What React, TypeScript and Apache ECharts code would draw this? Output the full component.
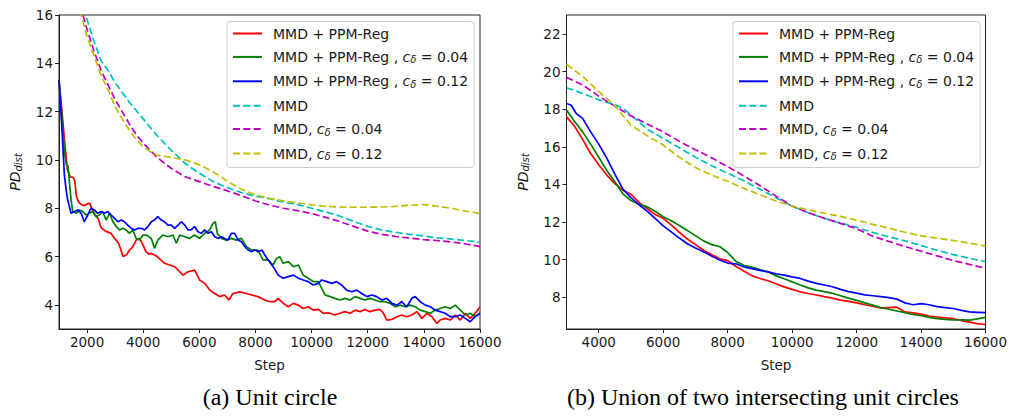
import React, { useEffect, useRef } from 'react';
import * as echarts from 'echarts';

const SERIES_NAMES = [
  'MMD + PPM-Reg',
  'MMD + PPM-Reg , c_δ = 0.04',
  'MMD + PPM-Reg , c_δ = 0.12',
  'MMD',
  'MMD, c_δ = 0.04',
  'MMD, c_δ = 0.12',
];
const SERIES_COLORS = ['#ff0000', '#008000', '#0000ff', '#00bfbf', '#bf00bf', '#bfbf00'];
const SERIES_DASHED = [false, false, false, true, true, true];

const CAPTIONS = ['(a) Unit circle', '(b) Union of two intersecting unit circles'];
const X_LABEL = 'Step';

const leftXTicks = [2000, 4000, 6000, 8000, 10000, 12000, 14000, 16000];
const leftYTicks = [4, 6, 8, 10, 12, 14, 16];
const rightXTicks = [4000, 6000, 8000, 10000, 12000, 14000, 16000];
const rightYTicks = [8, 10, 12, 14, 16, 18, 20, 22];

// (a) Unit circle
const uRed: [number, number][] = [
  [1000, 13.3], [1100, 12.1], [1200, 10.75], [1300, 9.6], [1400, 9.3], [1500, 9.28], [1560, 9.15], [1620, 8.5],
  [1700, 8.25], [1800, 8.15], [1900, 8.1], [2000, 8.18], [2100, 8.2], [2200, 7.9], [2300, 7.72], [2400, 7.55],
  [2500, 7.2], [2600, 7.1], [2700, 7.03], [2850, 6.96], [3000, 6.72], [3100, 6.6], [3200, 6.3], [3280, 6.0],
  [3400, 6.06], [3500, 6.25], [3630, 6.41], [3750, 6.68], [3870, 6.75], [3990, 6.48], [4100, 6.2], [4200, 6.1],
  [4290, 6.13], [4470, 6.02], [4640, 5.85], [4760, 5.72], [4940, 5.65], [5120, 5.58], [5300, 5.37], [5420, 5.23],
  [5600, 5.37], [5830, 5.44], [6010, 5.03], [6190, 4.89], [6370, 4.61], [6550, 4.47], [6730, 4.34], [6900, 4.41],
  [7050, 4.2], [7200, 4.47], [7440, 4.54], [7680, 4.47], [7860, 4.41], [8090, 4.34], [8330, 4.2], [8520, 4.13],
  [8690, 4.13], [8810, 4.27], [8990, 4.06], [9170, 3.92], [9350, 4.06], [9530, 3.99], [9700, 3.85], [9880, 3.92],
  [10060, 3.78], [10240, 3.81], [10420, 3.65], [10600, 3.67], [10830, 3.58], [11010, 3.65], [11190, 3.72],
  [11370, 3.65], [11550, 3.78], [11730, 3.72], [11900, 3.81], [12080, 3.72], [12260, 3.78], [12440, 3.81],
  [12560, 3.65], [12680, 3.37], [12860, 3.4], [13040, 3.51], [13210, 3.58], [13390, 3.51], [13570, 3.58],
  [13750, 3.72], [13930, 3.44], [14110, 3.65], [14290, 3.51], [14460, 3.23], [14580, 3.37], [14760, 3.44],
  [14940, 3.37], [15120, 3.58], [15300, 3.37], [15480, 3.65], [15650, 3.44], [15830, 3.65], [16000, 3.92],
];
const uGreen: [number, number][] = [
  [1000, 13.3], [1100, 11.9], [1200, 10.3], [1260, 9.8], [1320, 9.75], [1380, 9.0], [1430, 8.34], [1490, 7.86],
  [1610, 7.79], [1730, 7.93], [1850, 7.86], [1965, 7.72], [2085, 7.79], [2200, 7.86], [2320, 7.65], [2440, 7.72],
  [2560, 7.86], [2680, 7.51], [2800, 7.79], [2920, 7.44], [3040, 7.24], [3160, 7.1], [3275, 7.17], [3390, 7.1],
  [3510, 6.96], [3630, 7.1], [3750, 6.75], [3870, 6.68], [3990, 6.89], [4110, 6.89], [4290, 6.75], [4400, 6.34],
  [4520, 6.68], [4700, 6.89], [4880, 6.82], [5060, 6.89], [5180, 6.55], [5300, 6.89], [5480, 6.82], [5650, 6.75],
  [5830, 6.89], [6010, 6.75], [6190, 6.96], [6370, 7.1], [6490, 7.37], [6570, 7.44], [6640, 6.96], [6790, 6.75],
  [6960, 6.68], [7140, 6.75], [7320, 6.68], [7500, 6.75], [7680, 6.41], [7860, 6.27], [8090, 6.27], [8270, 5.86],
  [8450, 5.86], [8630, 5.65], [8750, 5.92], [8870, 5.99], [8990, 5.72], [9170, 5.79], [9350, 5.58], [9530, 5.65],
  [9700, 5.23], [9880, 5.1], [10060, 4.96], [10240, 4.96], [10360, 4.68], [10480, 4.41], [10660, 4.34],
  [10830, 4.27], [11010, 4.2], [11190, 4.27], [11370, 4.2], [11550, 4.34], [11730, 4.27], [11900, 4.2],
  [12080, 4.27], [12260, 4.2], [12440, 4.13], [12620, 4.13], [12800, 4.06], [12980, 3.92], [13160, 3.99],
  [13330, 3.92], [13510, 3.99], [13690, 3.92], [13870, 3.78], [14050, 3.72], [14230, 3.65], [14400, 3.78],
  [14580, 3.85], [14760, 3.92], [14940, 3.85], [15120, 3.99], [15300, 3.78], [15480, 3.58], [15650, 3.65],
  [15830, 3.51], [16000, 3.65],
];
const uBlue: [number, number][] = [
  [1000, 13.3], [1100, 11.4], [1190, 9.4], [1250, 8.8], [1310, 8.34], [1430, 7.79], [1550, 7.86], [1670, 7.93],
  [1790, 7.79], [1900, 7.44], [2025, 7.72], [2140, 8.0], [2260, 7.93], [2380, 7.79], [2500, 7.86], [2620, 7.79],
  [2740, 7.86], [2860, 7.72], [2980, 7.58], [3100, 7.44], [3215, 7.51], [3330, 7.44], [3450, 7.3], [3570, 7.17],
  [3690, 7.1], [3810, 7.17], [3930, 7.17], [4050, 7.1], [4170, 7.24], [4290, 7.44], [4400, 7.51], [4520, 7.65],
  [4640, 7.51], [4760, 7.44], [4880, 7.3], [5000, 7.3], [5120, 7.17], [5240, 7.3], [5360, 7.44], [5480, 7.3],
  [5600, 7.1], [5710, 7.1], [5830, 7.24], [5950, 7.03], [6070, 6.96], [6190, 7.1], [6310, 6.96], [6430, 7.03],
  [6550, 6.82], [6670, 6.75], [6790, 6.82], [6900, 6.75], [7020, 6.68], [7140, 6.96], [7260, 6.96], [7380, 6.68],
  [7500, 6.61], [7620, 6.41], [7740, 6.27], [7860, 6.2], [7980, 6.27], [8090, 6.2], [8240, 6.27], [8330, 6.06],
  [8450, 5.86], [8630, 5.58], [8810, 5.23], [8990, 5.1], [9170, 5.17], [9350, 5.23], [9530, 5.1], [9700, 5.03],
  [9880, 4.96], [10060, 4.82], [10240, 4.89], [10360, 5.03], [10540, 4.96], [10720, 4.89], [10890, 4.96],
  [11070, 4.82], [11250, 4.61], [11430, 4.54], [11610, 4.61], [11790, 4.47], [11970, 4.34], [12140, 4.41],
  [12320, 4.34], [12500, 4.2], [12680, 4.27], [12860, 4.06], [13040, 3.99], [13210, 4.13], [13390, 3.92],
  [13570, 4.27], [13690, 4.34], [13870, 4.13], [14050, 3.99], [14230, 3.92], [14400, 3.78], [14580, 3.72],
  [14760, 3.65], [14940, 3.51], [15120, 3.51], [15300, 3.58], [15480, 3.44], [15650, 3.3], [15830, 3.51],
  [16000, 3.65],
];
const uCyan: [number, number][] = [
  [1800, 16.7], [2000, 15.8], [2250, 14.9], [2500, 14.1], [2750, 13.7], [3000, 13.2], [3500, 12.4], [4000, 11.7],
  [4500, 11.0], [5000, 10.4], [5500, 9.85], [6000, 9.45], [6500, 9.1], [7000, 8.85], [7500, 8.65], [8000, 8.5],
  [8500, 8.4], [9000, 8.25], [9500, 8.15], [10000, 8.0], [10500, 7.85], [11000, 7.68], [11500, 7.45],
  [12000, 7.25], [12500, 7.1], [13000, 7.0], [13500, 6.92], [14000, 6.85], [14500, 6.77], [15000, 6.72],
  [15500, 6.66], [16000, 6.6],
];
const uMagenta: [number, number][] = [
  [1750, 16.4], [2000, 15.4], [2250, 14.5], [2500, 13.7], [2750, 13.1], [3000, 12.5], [3250, 12.0], [3500, 11.5],
  [3750, 11.05], [4000, 10.7], [4250, 10.4], [4500, 10.1], [5000, 9.65], [5500, 9.3], [6000, 9.1], [6500, 8.9],
  [7000, 8.72], [7500, 8.52], [8000, 8.3], [8500, 8.13], [9000, 8.0], [9500, 7.9], [10000, 7.78], [10500, 7.62],
  [11000, 7.45], [11500, 7.25], [12000, 7.05], [12500, 6.92], [13000, 6.83], [13500, 6.76], [14000, 6.7],
  [14500, 6.66], [15000, 6.6], [15500, 6.52], [16000, 6.41],
];
const uYellow: [number, number][] = [
  [1750, 16.2], [2000, 15.1], [2250, 14.3], [2500, 13.5], [2750, 12.9], [3000, 12.2], [3250, 11.7], [3500, 11.25],
  [3750, 10.85], [4000, 10.55], [4300, 10.3], [4500, 10.2], [5000, 10.1], [5500, 10.0], [6000, 9.8], [6500, 9.5],
  [7000, 9.12], [7500, 8.78], [8000, 8.55], [8500, 8.41], [9000, 8.3], [9500, 8.22], [10000, 8.14], [10500, 8.08],
  [11000, 8.05], [11500, 8.04], [12000, 8.04], [12500, 8.05], [13000, 8.08], [13500, 8.12], [14000, 8.15],
  [14500, 8.08], [15000, 7.99], [15500, 7.88], [16000, 7.78],
];

// (b) Union of two intersecting unit circles
const tRed: [number, number][] = [
  [3000, 17.6], [3250, 17.1], [3500, 16.4], [3750, 15.65], [4000, 15.05], [4250, 14.5], [4500, 14.05], [4750, 13.7],
  [5000, 13.48], [5250, 13.05], [5500, 12.72], [5750, 12.4], [6000, 12.2], [6250, 11.85], [6500, 11.45],
  [6750, 11.1], [7000, 10.8], [7250, 10.5], [7500, 10.28], [7750, 10.05], [8000, 9.95], [8250, 9.65], [8500, 9.4],
  [8750, 9.15], [9000, 9.0], [9250, 8.88], [9500, 8.72], [9750, 8.55], [10000, 8.42], [10250, 8.29], [10500, 8.2],
  [10750, 8.12], [11000, 8.03], [11250, 7.95], [11500, 7.85], [11750, 7.78], [12000, 7.7], [12250, 7.6],
  [12500, 7.53], [12750, 7.43], [13000, 7.45], [13250, 7.47], [13500, 7.22], [13750, 7.17], [14000, 7.1],
  [14250, 7.0], [14500, 6.95], [14750, 6.9], [15000, 6.86], [15250, 6.76], [15500, 6.68], [15750, 6.6],
  [16000, 6.55],
];
const tGreen: [number, number][] = [
  [3000, 17.96], [3250, 17.35], [3500, 16.8], [3750, 16.15], [4000, 15.45], [4250, 14.75], [4500, 14.15],
  [4750, 13.5], [5000, 13.15], [5250, 12.95], [5500, 12.82], [5750, 12.58], [6000, 12.28], [6250, 12.07],
  [6500, 11.82], [6750, 11.55], [7000, 11.28], [7250, 11.0], [7500, 10.8], [7750, 10.7], [8000, 10.38],
  [8250, 9.92], [8500, 9.7], [8750, 9.6], [9000, 9.47], [9250, 9.35], [9500, 9.15], [9750, 8.98], [10000, 8.82],
  [10250, 8.65], [10500, 8.5], [10750, 8.38], [11000, 8.3], [11250, 8.21], [11500, 8.08], [11750, 7.95],
  [12000, 7.83], [12250, 7.7], [12500, 7.58], [12750, 7.45], [13000, 7.36], [13250, 7.27], [13500, 7.18],
  [13750, 7.08], [14000, 7.02], [14250, 6.93], [14500, 6.86], [14750, 6.82], [15000, 6.79], [15250, 6.8],
  [15500, 6.78], [15750, 6.85], [16000, 6.93],
];
const tBlue: [number, number][] = [
  [3000, 18.31], [3150, 18.22], [3300, 17.78], [3500, 17.52], [3750, 16.8], [4000, 16.15], [4250, 15.4],
  [4500, 14.55], [4750, 13.75], [5000, 13.3], [5250, 12.92], [5500, 12.58], [5750, 12.2], [6000, 11.8],
  [6250, 11.48], [6500, 11.15], [6750, 10.85], [7000, 10.62], [7250, 10.42], [7500, 10.2], [7750, 9.98],
  [8000, 9.82], [8250, 9.78], [8500, 9.62], [8750, 9.52], [9000, 9.43], [9250, 9.35], [9500, 9.25], [9750, 9.18],
  [10000, 9.08], [10250, 9.0], [10500, 8.86], [10750, 8.74], [11000, 8.65], [11250, 8.56], [11500, 8.42],
  [11750, 8.3], [12000, 8.22], [12250, 8.13], [12500, 8.08], [12750, 8.03], [13000, 7.98], [13250, 7.9],
  [13500, 7.7], [13750, 7.6], [14000, 7.66], [14250, 7.6], [14500, 7.5], [14750, 7.45], [15000, 7.4],
  [15250, 7.3], [15500, 7.22], [15750, 7.2], [16000, 7.18],
];
const tCyan: [number, number][] = [
  [3000, 19.15], [3500, 18.85], [4000, 18.5], [4500, 18.25], [4800, 18.0], [5000, 17.7], [5500, 16.95],
  [6000, 16.45], [6500, 15.95], [7000, 15.45], [7500, 15.0], [8000, 14.6], [8500, 14.2], [9000, 13.75],
  [9500, 13.3], [10000, 12.85], [10500, 12.5], [11000, 12.2], [11500, 11.95], [12000, 11.72], [12500, 11.45],
  [13000, 11.22], [13500, 11.0], [14000, 10.75], [14500, 10.5], [15000, 10.27], [15500, 10.08], [16000, 9.89],
];
const tMagenta: [number, number][] = [
  [3000, 19.7], [3500, 19.3], [4000, 18.7], [4500, 18.17], [5000, 17.65], [5500, 17.22], [6000, 16.8],
  [6500, 16.3], [7000, 15.85], [7500, 15.42], [8000, 14.95], [8500, 14.45], [9000, 13.95], [9500, 13.38],
  [10000, 12.85], [10500, 12.5], [11000, 12.2], [11500, 11.93], [12000, 11.65], [12500, 11.25], [13000, 10.97],
  [13500, 10.7], [14000, 10.45], [14500, 10.2], [15000, 9.95], [15500, 9.75], [16000, 9.54],
];
const tYellow: [number, number][] = [
  [3000, 20.4], [3500, 19.75], [4000, 18.95], [4500, 18.2], [5000, 17.15], [5500, 16.6], [6000, 16.1],
  [6500, 15.45], [7000, 14.9], [7500, 14.5], [8000, 14.17], [8500, 13.8], [9000, 13.45], [9500, 13.12],
  [10000, 12.85], [10500, 12.65], [11000, 12.47], [11500, 12.3], [12000, 12.1], [12500, 11.88], [13000, 11.68],
  [13500, 11.46], [14000, 11.27], [14500, 11.14], [15000, 11.02], [15500, 10.88], [16000, 10.72],
];

const leftData = [uRed, uGreen, uBlue, uCyan, uMagenta, uYellow];
const rightData = [tRed, tGreen, tBlue, tCyan, tMagenta, tYellow];

const FONT = '"DejaVu Sans", sans-serif';
const TEXT = '#1a1a1a';
const AXIS = '#222222';

function legendLabel(name: string): string {
  const idx = name.indexOf('c_δ');
  if (idx < 0) return `{f|${name}}`;
  const pre = name.slice(0, idx);
  const post = name.slice(idx + 3);
  return `{f|${pre}}{i|c}{s|δ}{a|${post}}`;
}

const legendRich = {
  f: { fontSize: 14, fontFamily: FONT, color: TEXT, lineHeight: 16, padding: [0, 0, 0, 6] },
  a: { fontSize: 14, fontFamily: FONT, color: TEXT, lineHeight: 16 },
  i: { fontSize: 14, fontFamily: FONT, color: TEXT, lineHeight: 16, fontStyle: 'italic' },
  s: { fontSize: 10, fontFamily: FONT, color: TEXT, lineHeight: 9, fontStyle: 'italic', verticalAlign: 'bottom' },
};

const plainNumber = (v: number) => String(v);

function xAxisCfg(gridIndex: number, min: number, max: number, ticks: number[]) {
  return {
    type: 'value', gridIndex, min, max,
    name: X_LABEL, nameLocation: 'middle', nameGap: 29,
    nameTextStyle: { fontSize: 13.5, fontFamily: FONT, color: TEXT },
    axisLine: { show: true, onZero: false, lineStyle: { color: AXIS, width: 1 } },
    axisTick: { show: true, inside: false, length: 4, customValues: ticks, lineStyle: { color: AXIS, width: 1 } },
    axisLabel: { customValues: ticks, formatter: plainNumber, margin: 6, fontSize: 13.5, fontFamily: FONT, color: TEXT },
    splitLine: { show: false },
  };
}

function yAxisCfg(gridIndex: number, min: number, max: number, ticks: number[]) {
  return {
    type: 'value', gridIndex, min, max,
    name: '{p|PD}{d|dist}', nameLocation: 'middle', nameGap: 36, nameRotate: 90,
    nameTextStyle: {
      rich: {
        p: { fontSize: 14, fontFamily: FONT, color: TEXT, fontStyle: 'italic', lineHeight: 16 },
        d: { fontSize: 10, fontFamily: FONT, color: TEXT, fontStyle: 'italic', lineHeight: 9, verticalAlign: 'bottom' },
      },
    },
    axisLine: { show: true, onZero: false, lineStyle: { color: AXIS, width: 1 } },
    axisTick: { show: true, inside: false, length: 4, customValues: ticks, lineStyle: { color: AXIS, width: 1 } },
    axisLabel: { customValues: ticks, formatter: plainNumber, margin: 6, fontSize: 13.5, fontFamily: FONT, color: TEXT },
    splitLine: { show: false },
  };
}

function legendCfg(left: number) {
  return {
    orient: 'vertical', left, top: 21.5,
    itemWidth: 29, itemHeight: 16, itemGap: 9.4,
    padding: [5, 6, 6, 5],
    backgroundColor: 'rgba(255,255,255,0.8)', borderColor: '#cccccc', borderWidth: 1, borderRadius: 3,
    selectedMode: false,
    data: SERIES_NAMES,
    formatter: legendLabel,
    itemStyle: { opacity: 0 },
    textStyle: { fontSize: 14, fontFamily: FONT, color: TEXT, rich: legendRich },
  };
}

function buildSeries(datasets: [number, number][][], axisIndex: number) {
  return datasets.map((data, i) => ({
    type: 'line',
    name: SERIES_NAMES[i],
    xAxisIndex: axisIndex, yAxisIndex: axisIndex,
    data,
    symbol: 'none', showSymbol: false, silent: true, clip: true,
    lineStyle: { color: SERIES_COLORS[i], width: 1.7, type: SERIES_DASHED[i] ? [7, 3.3] : 'solid' },
    itemStyle: { color: SERIES_COLORS[i] },
  }));
}

export default function App() {
  const ref = useRef<HTMLDivElement>(null);
  useEffect(() => {
    if (!ref.current) return;
    const chart = echarts.init(ref.current, null, { renderer: 'svg' });
    const gridBox = { show: true, borderColor: AXIS, borderWidth: 1, backgroundColor: 'transparent' };
    chart.setOption({
      animation: false,
      backgroundColor: '#ffffff',
      grid: [
        { left: 59, top: 15, width: 421, height: 314, ...gridBox },
        { left: 566.5, top: 15, width: 419.5, height: 314, ...gridBox },
      ],
      xAxis: [xAxisCfg(0, 1000, 16000, leftXTicks), xAxisCfg(1, 3000, 16000, rightXTicks)],
      yAxis: [yAxisCfg(0, 3, 16, leftYTicks), yAxisCfg(1, 6.31, 23.02, rightYTicks)],
      legend: [legendCfg(227), legendCfg(733)],
      series: [...buildSeries(leftData, 0), ...buildSeries(rightData, 1)],
      graphic: [
        { type: 'text', x: 270, y: 397, style: { text: CAPTIONS[0], fontSize: 24, fontFamily: '"Liberation Serif", serif', fill: '#000', align: 'center', verticalAlign: 'middle' } },
        { type: 'text', x: 763, y: 397, style: { text: CAPTIONS[1], fontSize: 24, fontFamily: '"Liberation Serif", serif', fill: '#000', align: 'center', verticalAlign: 'middle' } },
      ],
    });
    return () => chart.dispose();
  }, []);
  return (
    <div
      ref={ref}
      style={{ position: 'absolute', left: 0, top: 0, width: 1010, height: 419, background: '#fff' }}
    />
  );
}
